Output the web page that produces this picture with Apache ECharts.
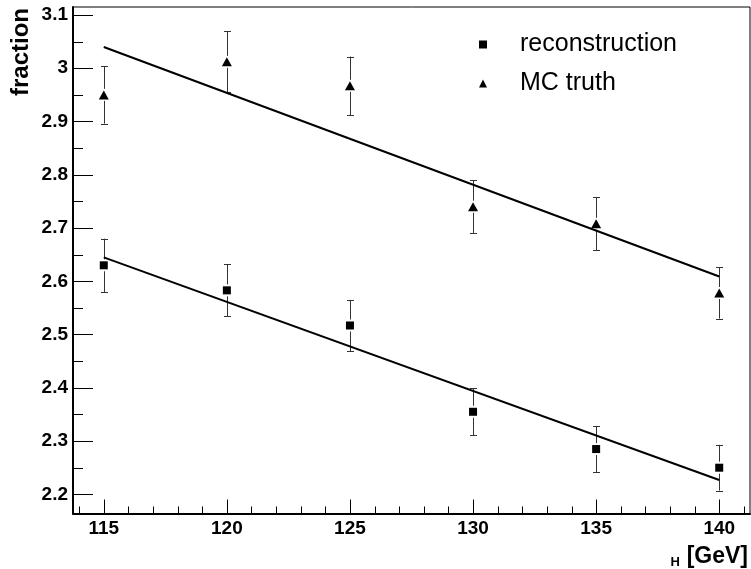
<!DOCTYPE html>
<html>
<head>
<meta charset="utf-8">
<script src="https://cdn.jsdelivr.net/npm/echarts@6/dist/echarts.min.js"></script>
<style>
  html, body { margin: 0; padding: 0; background: #fff; }
  #chart { width: 751px; height: 569px; }
</style>
</head>
<body>
<div id="chart"></div>
<script>
// values
const massPoints = [115, 120, 125, 130, 135, 140];
const recoValues = [2.630, 2.583, 2.517, 2.355, 2.285, 2.250];
const recoErrors = [0.050, 0.049, 0.048, 0.044, 0.043, 0.043];
const truthValues = [2.950, 3.012, 2.967, 2.740, 2.708, 2.578];
const truthErrors = [0.054, 0.057, 0.055, 0.050, 0.050, 0.048];

// straight-line fits, end points at 115 and 140
const fitRange = [115, 140];
const recoFit = [2.645, 2.227];
const truthFit = [3.040, 2.609];

// minor tick positions (ROOT style)
const xMinorTicks = [114, 116, 117, 118, 119, 121, 122, 123, 124, 126, 127, 128, 129,
  131, 132, 133, 134, 136, 137, 138, 139, 141];
const yMinorTicks = [2.25, 2.35, 2.45, 2.55, 2.65, 2.75, 2.85, 2.95, 3.05];

const X_MIN = 113.75, X_MAX = 141.25;
const Y_MIN = 2.164, Y_MAX = 3.115;
const FONT = "'Liberation Sans', Arial, Helvetica, sans-serif";

function errorBarData(values, errors) {
  return massPoints.map((m, i) => [m, values[i], values[i] - errors[i], values[i] + errors[i]]);
}

function errorBarItem(params, api) {
  const x = api.value(0);
  const c = api.coord([x, api.value(1)]);
  const lo = api.coord([x, api.value(2)]);
  const hi = api.coord([x, api.value(3)]);
  const px = Math.round(c[0]) + 0.5;
  const gap = 6, cap = 3.5;
  const st = { stroke: "#333", lineWidth: 1 };
  return {
    type: "group",
    children: [
      { type: "line", shape: { x1: px, y1: hi[1], x2: px, y2: c[1] - gap }, style: st },
      { type: "line", shape: { x1: px, y1: c[1] + gap, x2: px, y2: lo[1] }, style: st },
      { type: "line", shape: { x1: px - cap, y1: Math.round(hi[1]) + 0.5, x2: px + cap, y2: Math.round(hi[1]) + 0.5 }, style: st },
      { type: "line", shape: { x1: px - cap, y1: Math.round(lo[1]) + 0.5, x2: px + cap, y2: Math.round(lo[1]) + 0.5 }, style: st },
    ],
  };
}

function xMinorItem(params, api) {
  const p = api.coord([api.value(0), Y_MIN]);
  const x = Math.round(p[0]) + 0.5;
  return { type: "line", shape: { x1: x, y1: p[1], x2: x, y2: p[1] - 7 }, style: { stroke: "#000", lineWidth: 1 } };
}

function yMinorItem(params, api) {
  const p = api.coord([X_MIN, api.value(1)]);
  const y = Math.round(p[1]) + 0.5;
  return { type: "line", shape: { x1: p[0], y1: y, x2: p[0] + 10, y2: y }, style: { stroke: "#000", lineWidth: 1 } };
}

const chart = echarts.init(document.getElementById("chart"), null, { renderer: "canvas" });

const option = {
  animation: false,
  backgroundColor: "#fff",
  grid: {
    left: 73, right: 1, top: 7, bottom: 55.5,
    show: true, borderColor: "#000", borderWidth: 1, backgroundColor: "transparent",
  },
  legend: {
    orient: "vertical",
    left: 474, top: 27,
    itemWidth: 8, itemHeight: 8, itemGap: 14,
    selectedMode: false,
    data: [
      { name: "reconstruction", icon: "rect" },
      { name: "MC truth", icon: "triangle" },
    ],
    textStyle: { fontFamily: FONT, fontSize: 25, color: "#000", lineHeight: 24, padding: [0, 0, 0, 28] },
  },
  xAxis: {
    type: "value",
    min: X_MIN, max: X_MAX, splitNumber: 5,
    axisLine: { show: true, lineStyle: { color: "#000", width: 2 } },
    axisTick: { show: true, inside: true, length: 14, lineStyle: { color: "#000", width: 1 } },
    splitLine: { show: false },
    axisLabel: {
      showMinLabel: false, showMaxLabel: false, margin: 6,
      fontFamily: FONT, fontSize: 19, fontWeight: "bold", color: "#000",
    },
  },
  yAxis: {
    type: "value",
    min: Y_MIN, max: Y_MAX, splitNumber: 10,
    axisLine: { show: true, lineStyle: { color: "#000", width: 2 } },
    axisTick: { show: true, inside: true, length: 20, lineStyle: { color: "#000", width: 1 } },
    splitLine: { show: false },
    axisLabel: {
      showMinLabel: false, showMaxLabel: false, margin: 5,
      fontFamily: FONT, fontSize: 19, fontWeight: "bold", color: "#000",
    },
  },
  graphic: [
    {
      type: "text", x: 21, y: 8, rotation: Math.PI / 2,
      style: { text: "fraction", fontFamily: FONT, fontSize: 24, fontWeight: "bold", fill: "#000", align: "right", verticalAlign: "middle" },
    },
    {
      type: "text", right: 3, top: 532,
      style: {
        text: "{h|H}  {g|[GeV]}",
        fill: "#000",
        rich: {
          h: { fontFamily: FONT, fontSize: 13, fontWeight: "bold", lineHeight: 14, padding: [24, 0, 0, 0], verticalAlign: "bottom" },
          g: { fontFamily: FONT, fontSize: 23, fontWeight: "bold", lineHeight: 24, verticalAlign: "top" },
        },
      },
    },
  ],
  series: [
    {
      type: "custom", name: "xminor", silent: true, z: 5,
      renderItem: xMinorItem,
      data: xMinorTicks.map((v) => [v, Y_MIN]),
    },
    {
      type: "custom", name: "yminor", silent: true, z: 5,
      renderItem: yMinorItem,
      data: yMinorTicks.map((v) => [X_MIN, v]),
    },
    {
      type: "line", name: "recoFit", silent: true, symbol: "none",
      lineStyle: { color: "#000", width: 2 },
      data: fitRange.map((m, i) => [m, recoFit[i]]),
    },
    {
      type: "line", name: "truthFit", silent: true, symbol: "none",
      lineStyle: { color: "#000", width: 2 },
      data: fitRange.map((m, i) => [m, truthFit[i]]),
    },
    {
      type: "custom", name: "recoErr", silent: true,
      renderItem: errorBarItem,
      encode: { x: 0, y: [1, 2, 3] },
      data: errorBarData(recoValues, recoErrors),
    },
    {
      type: "custom", name: "truthErr", silent: true,
      renderItem: errorBarItem,
      encode: { x: 0, y: [1, 2, 3] },
      data: errorBarData(truthValues, truthErrors),
    },
    {
      type: "scatter", name: "reconstruction", symbol: "rect", symbolSize: 8,
      itemStyle: { color: "#000", opacity: 1 }, z: 10,
      data: massPoints.map((m, i) => [m, recoValues[i]]),
    },
    {
      type: "scatter", name: "MC truth", symbol: "triangle", symbolSize: [10, 9],
      itemStyle: { color: "#000", opacity: 1 }, z: 10,
      data: massPoints.map((m, i) => [m, truthValues[i]]),
    },
  ],
};

chart.setOption(option);
</script>
</body>
</html>
